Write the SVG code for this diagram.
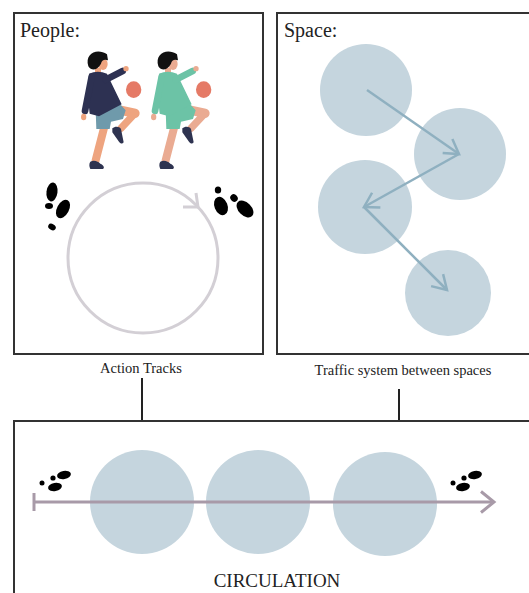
<svg xmlns="http://www.w3.org/2000/svg" width="529" height="593" viewBox="0 0 529 593">
  <style>
    .frame{fill:#fff;stroke:#333;stroke-width:2}
    .title{font-size:20px;fill:#222}
    .label{font-size:14.5px;fill:#222;text-anchor:middle}
    .big{font-size:19px;fill:#222;text-anchor:middle}
    .room{fill:#c5d5de}
    .flow{fill:none;stroke:#8fb0c0;stroke-width:2.5}
    .link{fill:none;stroke:#222;stroke-width:2}
    .path{fill:none;stroke:#a89aa8;stroke-width:3}
    .loop{fill:none;stroke:#d3cfd5;stroke-width:3}
    .foot{fill:#000}
    .shirt{fill:var(--shirt)}
    .shorts{fill:var(--shorts)}
    .skin{fill:var(--skin)}
    .limb{fill:none;stroke:var(--skin);stroke-linecap:round}
    .sleeve{fill:none;stroke:var(--shirt);stroke-linecap:round}
    .shoe{fill:#2e3350}
    .hair{fill:#111}
    .ball{fill:#e57a66}
  </style>
  <defs>
    <marker id="chev" markerUnits="userSpaceOnUse" markerWidth="20" markerHeight="20" viewBox="-16 -10 18 20" orient="auto" overflow="visible">
      <path d="M-14,-8.5 L0,0 L-14,8.5" fill="none" stroke="#8fb0c0" stroke-width="2.5"/>
    </marker>
    <marker id="chevPath" markerUnits="userSpaceOnUse" markerWidth="20" markerHeight="24" viewBox="-16 -12 18 24" orient="auto" overflow="visible">
      <path d="M-13,-10.5 L0,0 L-13,10.5" fill="none" stroke="#a89aa8" stroke-width="3"/>
    </marker>
    <!-- boy kicking a ball, drawn at 3x and scaled down -->
    <g id="boy">
      <path class="limb" stroke-width="24" d="M88,245 L62,346"/>
      <path class="shoe" d="M46,350 C58,344 70,350 76,356 C86,360 90,368 84,372 L46,372 C42,364 42,356 46,350 Z"/>
      <path class="limb" stroke-width="28" d="M134,195 L180,205"/>
      <path class="limb" stroke-width="22" d="M180,205 L138,250"/>
      <path class="shoe" d="M112,250 C120,242 134,244 138,252 L146,292 C142,298 136,296 132,290 L112,262 Z"/>
      <path class="shorts" d="M62,196 L132,174 L152,196 L144,222 L108,230 L104,252 L64,252 Z"/>
      <rect class="skin" x="60" y="68" width="18" height="22"/>
      <path class="shirt" d="M42,86 Q68,74 96,86 L112,120 L140,178 L72,214 L44,206 L38,150 Z"/>
      <path class="sleeve" stroke-width="20" d="M92,104 L143,78"/>
      <path class="sleeve" stroke-width="20" d="M50,95 L30,198"/>
      <circle class="skin" cx="153" cy="71" r="8"/>
      <ellipse class="skin" cx="26" cy="216" rx="8" ry="10"/>
      <ellipse class="skin" cx="84" cy="57" rx="14" ry="18"/>
      <path class="hair" d="M40,64 C28,24 68,8 96,28 L99,46 C88,42 80,46 78,56 L74,62 C66,74 50,80 40,64 Z"/>
      <ellipse class="ball" cx="176" cy="134" rx="23" ry="25"/>
    </g>
  </defs>

  <!-- top-left panel: people -->
  <g id="people">
    <rect class="frame" x="14" y="13" width="249" height="341"/>
    <text class="title" x="20" y="37" font-family="Liberation Serif, serif">People:</text>
    <g transform="translate(75,45) scale(0.3333)" style="--shirt:#2d3152;--shorts:#6f9aab;--skin:#eea47f">
      <use href="#boy"/>
    </g>
    <g transform="translate(145,45) scale(0.3333)" style="--shirt:#6cc3a6;--shorts:#6cc3a6;--skin:#eaab92">
      <use href="#boy"/>
    </g>
    <!-- walking loop -->
    <circle class="loop" cx="143" cy="258" r="75"/>
    <path class="loop" d="M183,207 L198,207 L196,193"/>
    <!-- footprints -->
    <ellipse class="foot" cx="52" cy="192" rx="5.5" ry="9.5" transform="rotate(8 52 192)"/>
    <ellipse class="foot" cx="49" cy="206" rx="4" ry="3"/>
    <ellipse class="foot" cx="63" cy="209" rx="6" ry="10" transform="rotate(28 63 209)"/>
    <ellipse class="foot" cx="52" cy="227" rx="4" ry="3" transform="rotate(30 52 227)"/>
    <ellipse class="foot" cx="218" cy="190" rx="3.2" ry="3.5"/>
    <ellipse class="foot" cx="221" cy="206" rx="6.5" ry="9.5" transform="rotate(-22 221 206)"/>
    <ellipse class="foot" cx="234" cy="198" rx="3.5" ry="4" transform="rotate(-40 234 198)"/>
    <ellipse class="foot" cx="245" cy="209" rx="6.5" ry="10" transform="rotate(-45 245 209)"/>
  </g>

  <!-- top-right panel: spaces -->
  <g id="space">
    <rect class="frame" x="277" y="13" width="260" height="341"/>
    <text class="title" x="284" y="37" font-family="Liberation Serif, serif">Space:</text>
    <circle class="room" cx="366" cy="90" r="46"/>
    <circle class="room" cx="460" cy="154" r="46"/>
    <circle class="room" cx="365" cy="207" r="47"/>
    <circle class="room" cx="448" cy="293" r="43"/>
    <path class="flow" d="M367,90 L459,154" marker-end="url(#chev)"/>
    <path class="flow" d="M459,154 L364,207" marker-end="url(#chev)"/>
    <path class="flow" d="M364,207 L447,290" marker-end="url(#chev)"/>
  </g>

  <text class="label" x="141" y="373" font-family="Liberation Serif, serif">Action Tracks</text>
  <text class="label" x="403" y="375" font-family="Liberation Serif, serif">Traffic system between spaces</text>

  <!-- links from the two panels down to circulation -->
  <g id="connectors">
    <line class="link" x1="142" y1="378" x2="142" y2="421"/>
    <line class="link" x1="399" y1="389" x2="399" y2="421"/>
  </g>

  <!-- bottom panel: circulation -->
  <g id="circulation">
    <rect class="frame" x="14" y="421" width="530" height="190"/>
    <circle class="room" cx="142" cy="502" r="52"/>
    <circle class="room" cx="258" cy="502" r="52"/>
    <circle class="room" cx="385" cy="504" r="52"/>
    <line class="path" x1="34" y1="493" x2="34" y2="511"/>
    <path class="path" d="M34,502 L494,502" marker-end="url(#chevPath)"/>
    <ellipse class="foot" cx="64" cy="475" rx="7" ry="4" transform="rotate(-10 64 475)"/>
    <circle class="foot" cx="53" cy="478" r="2.6"/>
    <ellipse class="foot" cx="55" cy="487" rx="7" ry="4" transform="rotate(-10 55 487)"/>
    <circle class="foot" cx="42" cy="483" r="2.5"/>
    <ellipse class="foot" cx="475" cy="475" rx="7" ry="4" transform="rotate(-10 475 475)"/>
    <circle class="foot" cx="464" cy="478" r="2.6"/>
    <ellipse class="foot" cx="463" cy="487" rx="7" ry="4" transform="rotate(-10 463 487)"/>
    <circle class="foot" cx="453" cy="483" r="2.5"/>
    <text class="big" x="277" y="587" font-family="Liberation Serif, serif">CIRCULATION</text>
  </g>
</svg>
